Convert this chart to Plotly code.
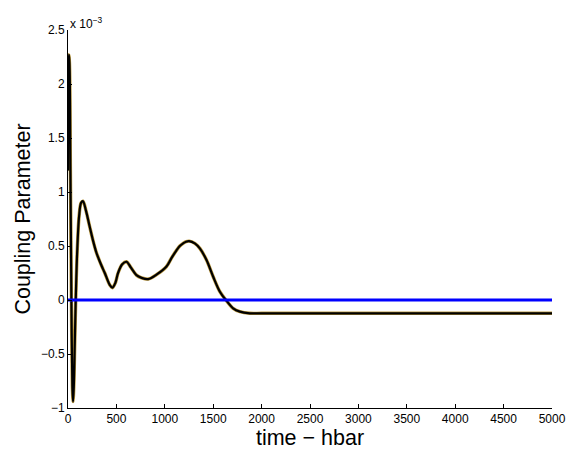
import plotly.graph_objects as go

# Coupling parameter versus time (values in units of 1e-3)
time_hbar = [0, 8, 15, 25, 35, 45, 52, 60, 70, 80, 95, 115, 135, 155, 185, 224,
             260, 293, 320, 350, 380, 431, 459, 490, 517, 560, 604, 650, 707, 760,
             828, 914, 1017, 1070, 1121, 1155, 1189, 1220, 1251, 1310, 1362, 1431,
             1500, 1569, 1631, 1706, 1776, 1879, 2000, 2500, 3000, 4000, 5000]
coupling_e3 = [1.2, 2.27, 2.2, 1.2, 0.0, -0.8, -0.94, -0.8, -0.4, 0.0, 0.45,
               0.78, 0.9, 0.915, 0.83, 0.68, 0.545, 0.44, 0.375, 0.31, 0.25, 0.14,
               0.114, 0.16, 0.25, 0.33, 0.354, 0.3, 0.23, 0.205, 0.194, 0.235,
               0.31, 0.39, 0.46, 0.50, 0.525, 0.54, 0.545, 0.524, 0.478, 0.37,
               0.215, 0.077, 0.0, -0.077, -0.108, -0.123, -0.123, -0.123, -0.123,
               -0.123, -0.123]

zero_t = [0, 5000]
zero_v = [0, 0]

x_ticks = [0, 500, 1000, 1500, 2000, 2500, 3000, 3500, 4000, 4500, 5000]
y_ticks = [-1, -0.5, 0, 0.5, 1, 1.5, 2, 2.5]
y_tick_text = ["\u22121", "\u22120.5", "0", "0.5", "1", "1.5", "2", "2.5"]

FONT = "Liberation Sans, Arial, Helvetica, sans-serif"

fig = go.Figure()
# tan underlay beneath the black trace
fig.add_trace(go.Scatter(x=time_hbar, y=coupling_e3, mode="lines",
                         line=dict(color="#b8963c", width=3.4, shape="spline", smoothing=0.9),
                         hoverinfo="skip", showlegend=False))
fig.add_trace(go.Scatter(x=time_hbar, y=coupling_e3, mode="lines",
                         line=dict(color="black", width=2.2, shape="spline", smoothing=0.9),
                         showlegend=False))
fig.add_trace(go.Scatter(x=zero_t, y=zero_v, mode="lines",
                         line=dict(color="#0000ff", width=3),
                         showlegend=False))

axis_common = dict(showgrid=False, zeroline=False, showline=True,
                   linecolor="black", linewidth=1, ticks="inside", ticklen=4,
                   tickcolor="black", tickfont=dict(family=FONT, size=12, color="black"),
                   mirror=False, automargin=False)

fig.update_layout(
    width=566, height=453,
    margin=dict(l=68, r=14, t=30, b=45),
    paper_bgcolor="white", plot_bgcolor="white",
    xaxis=dict(range=[0, 5000], tickvals=x_ticks,
               title=dict(text="time \u2212 hbar", font=dict(family=FONT, size=21.5, color="black"),
                          standoff=1),
               **axis_common),
    yaxis=dict(range=[-1, 2.5], tickvals=y_ticks, ticktext=y_tick_text,
               title=dict(text="Coupling Parameter", font=dict(family=FONT, size=21.5, color="black"),
                          standoff=4),
               **axis_common),
    annotations=[dict(text="x 10<sup>\u22123</sup>", xref="paper", yref="paper",
                      x=0, y=1, xanchor="left", yanchor="bottom", showarrow=False,
                      xshift=0, yshift=-3,
                      font=dict(family=FONT, size=12, color="black"))],
)

fig.write_html("out.html")
